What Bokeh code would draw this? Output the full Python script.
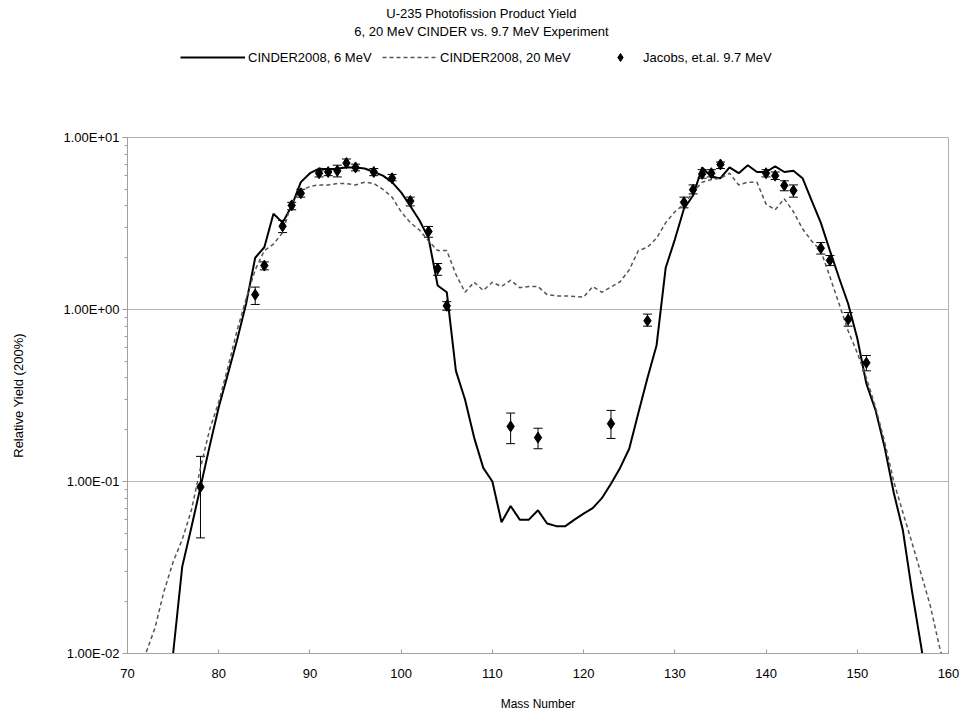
from bokeh.plotting import figure
from bokeh.layouts import column
from bokeh.models import (Range1d, FixedTicker, CustomJSTickFormatter, Legend, LegendItem,
                          Whisker, TeeHead, ColumnDataSource, Label)
from bokeh.embed import file_html
from bokeh.resources import INLINE

FONT = "Liberation Sans"

title_lines = ["U-235 Photofission Product Yield", "6, 20 MeV CINDER vs. 9.7 MeV Experiment"]
x_label = "Mass Number"
y_label = "Relative Yield (200%)"
series_names = ["CINDER2008, 6 MeV", "CINDER2008, 20 MeV", "Jacobs, et.al. 9.7 MeV"]

# CINDER2008, 6 MeV (solid)
mass_6 = list(range(75, 159))
yield_6 = [0.010, 0.032, 0.054, 0.093, 0.16, 0.27, 0.42, 0.66, 1.08, 2.0,
           2.3, 3.6, 3.2, 4.0, 5.5, 6.2, 6.6, 6.5, 6.6, 6.7,
           6.7, 6.6, 6.3, 6.0, 5.5, 4.8, 4.0, 3.3, 2.6, 1.38,
           1.26, 0.44, 0.30, 0.18, 0.12, 0.10, 0.058, 0.072, 0.06, 0.06,
           0.068, 0.057, 0.055, 0.055, 0.06, 0.065, 0.07, 0.08, 0.097, 0.12,
           0.155, 0.25, 0.40, 0.62, 1.75, 2.55, 3.85, 4.6, 6.7, 5.9,
           5.8, 6.7, 6.2, 6.9, 6.3, 6.3, 6.8, 6.3, 6.4, 5.8,
           4.3, 3.2, 2.2, 1.53, 1.08, 0.68, 0.37, 0.26, 0.158, 0.086,
           0.052, 0.023, 0.011, 0.005]

# CINDER2008, 20 MeV (dashed)
mass_20 = list(range(71, 161))
yield_20 = [0.0065, 0.010, 0.014, 0.023, 0.034, 0.046, 0.068, 0.12, 0.2, 0.29,
            0.46, 0.75, 1.15, 1.7, 2.2, 2.4, 2.8, 4.2, 4.9, 5.2,
            5.3, 5.3, 5.4, 5.4, 5.3, 5.5, 5.4, 5.0, 4.5, 3.7,
            3.2, 2.9, 2.5, 2.2, 2.2, 1.6, 1.26, 1.44, 1.29, 1.44,
            1.36, 1.48, 1.34, 1.36, 1.36, 1.22, 1.2, 1.2, 1.19, 1.18,
            1.36, 1.26, 1.35, 1.45, 1.7, 2.2, 2.3, 2.6, 3.2, 3.7,
            4.1, 4.8, 5.5, 5.7, 5.8, 6.2, 5.3, 5.5, 5.5, 4.1,
            3.8, 4.4, 3.7, 2.95, 2.5, 2.2, 1.55, 1.08, 0.75, 0.56,
            0.4, 0.27, 0.17, 0.1, 0.066, 0.044, 0.029, 0.019, 0.011, 0.007]

# Jacobs et al. 9.7 MeV experiment
exp_mass = [78, 84, 85, 87, 88, 89, 91, 92, 93, 94,
            95, 97, 99, 101, 103, 104, 105, 112, 115, 123,
            127, 131, 132, 133, 134, 135, 140, 141, 142, 143,
            146, 147, 149, 151]
exp_yield = [0.093, 1.22, 1.80, 3.05, 4.03, 4.74, 6.2, 6.3, 6.4, 7.1,
             6.7, 6.3, 5.8, 4.27, 2.84, 1.73, 1.05, 0.209, 0.18, 0.217,
             0.86, 4.2, 4.97, 6.15, 6.2, 6.97, 6.2, 6.0, 5.26, 4.92,
             2.27, 1.93, 0.875, 0.49]
exp_low = [0.047, 1.07, 1.70, 2.8, 3.8, 4.5, 5.9, 6.0, 5.9, 6.7,
           6.4, 6.0, 5.6, 4.0, 2.63, 1.58, 0.99, 0.166, 0.155, 0.178,
           0.80, 3.9, 4.7, 5.8, 5.9, 6.6, 5.9, 5.7, 4.9, 4.5,
           2.1, 1.8, 0.80, 0.44]
exp_high = [0.14, 1.35, 1.89, 3.3, 4.2, 5.0, 6.4, 6.6, 6.9, 7.5,
            7.0, 6.6, 6.1, 4.5, 3.04, 1.85, 1.11, 0.25, 0.204, 0.259,
            0.94, 4.5, 5.3, 6.5, 6.5, 7.2, 6.5, 6.3, 5.6, 5.3,
            2.45, 2.06, 0.96, 0.54]

x_ticks = [70, 80, 90, 100, 110, 120, 130, 140, 150, 160]
y_ticks = [0.01, 0.1, 1.0, 10.0]
y_tick_labels = ["1.00E-02", "1.00E-01", "1.00E+00", "1.00E+01"]

W, H = 962, 719
HEAD = 127
ML, MR, MT, MB = 127, 14, 10, 66

SOLID = dict(line_color="black", line_width=2)
DASHED = dict(line_color="#555555", line_width=1.5, line_dash="4 3")
DIAMOND = dict(marker="diamond", size=11, fill_color="black", line_color="black")

# ---------------- header: title + legend ----------------
# (the column aligns this header's frame with the chart's frame: left edge at ML)
head = figure(width=W, height=HEAD, output_backend="svg", toolbar_location=None,
              x_range=Range1d(0, 1), y_range=Range1d(0, 1),
              x_axis_location=None, y_axis_location=None,
              min_border=0)
head.outline_line_color = None
head.grid.visible = False
head.background_fill_color = "white"
head.border_fill_color = "white"

for t, yc in zip(title_lines, [13, 31]):
    head.add_layout(Label(x=W / 2 - ML, y=HEAD - yc, x_units="screen", y_units="screen", text=t,
                          text_font=FONT, text_font_size="13px", text_color="black",
                          text_align="center", text_baseline="middle"))

# legend-only renderers: same data, but outside this header's ranges, so only their legend glyphs show
h6 = head.line(mass_6, yield_6, **SOLID)
h20 = head.line(mass_20, yield_20, **DASHED)
hexp = head.scatter(exp_mass, exp_yield, **DIAMOND)
leg_top = 47
specs = [(h6, 180, 65, 3), (h20, 382, 55, 3), (hexp, 610, 20, 13)]
for (rend, xs, gw, st), name in zip(specs, series_names):
    head.add_layout(Legend(items=[LegendItem(label=name, renderers=[rend])],
                           location=(xs - ML, HEAD - leg_top - 20), orientation="horizontal",
                           padding=0, margin=0, border_line_color=None, background_fill_alpha=0,
                           glyph_width=gw, glyph_height=20, label_height=20, label_standoff=st,
                           spacing=0, label_text_font=FONT, label_text_font_size="13px",
                           label_text_color="black"), "center")

# ---------------- main chart ----------------
p = figure(width=W, height=H - HEAD, y_axis_type="log", output_backend="svg", toolbar_location=None,
           x_range=Range1d(70, 160), y_range=Range1d(0.01, 10),
           min_border_left=ML, min_border_right=MR, min_border_top=MT, min_border_bottom=MB)
p.background_fill_color = "white"
p.border_fill_color = "white"
p.outline_line_color = "#b0b0b0"
p.outline_line_width = 1

p.xgrid.grid_line_color = None
p.ygrid.grid_line_color = "#b8b8b8"
p.ygrid.grid_line_width = 1

minor = [k * t for t in y_ticks[:-1] for k in range(2, 10)]
p.yaxis.ticker = FixedTicker(ticks=y_ticks, minor_ticks=minor)
p.yaxis.formatter = CustomJSTickFormatter(args=dict(tv=y_ticks, tl=y_tick_labels), code="""
let best = 0, d = 1e9;
for (let i = 0; i < tv.length; i++) {
  const dd = Math.abs(Math.log10(tv[i]) - Math.log10(tick));
  if (dd < d) { d = dd; best = i; }
}
return tl[best];
""")
p.xaxis.ticker = FixedTicker(ticks=x_ticks)
for ax in (p.xaxis, p.yaxis):
    ax.axis_line_color = "#a0a0a0"
    ax.major_tick_line_color = "#a0a0a0"
    ax.minor_tick_line_color = "#a0a0a0"
    ax.major_label_text_font = FONT
    ax.major_label_text_font_size = "13px"
    ax.major_label_text_color = "black"
    ax.axis_label_text_font = FONT
    ax.axis_label_text_font_style = "normal"
    ax.axis_label_text_color = "black"
p.xaxis.axis_label_text_font_size = "12px"
p.yaxis.axis_label_text_font_size = "13px"
p.xaxis.minor_tick_line_color = None
p.xaxis.major_tick_in = 4
p.xaxis.major_tick_out = 0
p.xaxis.major_label_standoff = 15
p.xaxis.axis_label = x_label
p.xaxis.axis_label_standoff = 16
p.yaxis.major_tick_in = 0
p.yaxis.major_tick_out = 5
p.yaxis.minor_tick_in = 0
p.yaxis.minor_tick_out = 3
p.yaxis.major_label_standoff = 3
p.yaxis.axis_label = y_label
p.yaxis.axis_label_standoff = 34

p.line(mass_6, yield_6, **SOLID)
p.line(mass_20, yield_20, **DASHED)

src = ColumnDataSource(dict(x=exp_mass, y=exp_yield, lo=exp_low, hi=exp_high))
p.add_layout(Whisker(source=src, base="x", lower="lo", upper="hi", line_color="black", line_width=1,
                     upper_head=TeeHead(size=9, line_color="black", line_width=1),
                     lower_head=TeeHead(size=9, line_color="black", line_width=1)))
p.scatter("x", "y", source=src, **DIAMOND)

layout = column(head, p, spacing=0)
open("out.html", "w").write(file_html(layout, INLINE))
